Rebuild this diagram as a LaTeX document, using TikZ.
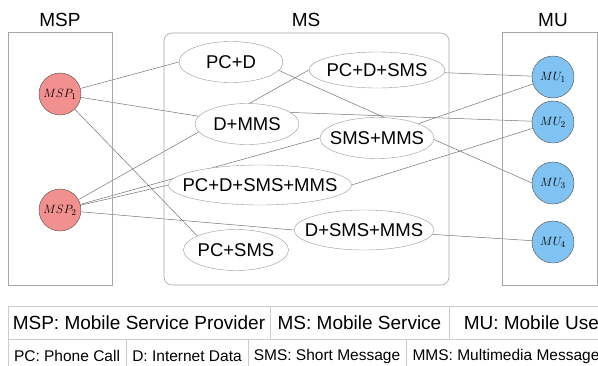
\documentclass[tikz,border=0pt]{standalone}
\usepackage{fontspec}
\setmainfont{Liberation Sans}
\usetikzlibrary{shapes.geometric,backgrounds}

\newcommand{\svclabel}[1]{\makebox[0pt]{#1}}

\begin{document}
\begin{tikzpicture}[x=1pt,y=-1pt,
    group/.style={draw=boxgray, line width=0.6pt},
    head/.style={font=\fontsize{19}{22}\selectfont},
    prov/.style={circle, draw=gray!60!black, fill=provred, minimum size=42pt, inner sep=0pt, font=\fontsize{13}{15}\selectfont},
    user/.style={circle, draw=gray!60!black, fill=userblue, minimum size=42pt, inner sep=0pt, font=\fontsize{13}{15}\selectfont},
    svc/.style={ellipse, draw=gray!80, fill=white, inner sep=0pt, font=\fontsize{18.5}{22}\selectfont},
    link/.style={draw=gray!90!black, line width=0.5pt},
    cell/.style={draw=gray!40, line width=0.6pt, inner sep=0pt},
]
    \colorlet{boxgray}{gray!70}
    \definecolor{provred}{HTML}{F28F8F}
    \definecolor{userblue}{HTML}{80C3F2}

    \useasboundingbox (0,0) rectangle (598,365);
    \clip (0,0) rectangle (598,365);

    % the three groups
    \draw[group] (8,32) rectangle (112,285);
    \draw[group, rounded corners=8pt] (164,33) rectangle (449,285);
    \draw[group] (502,32) rectangle (597,285);

    \node[head] (tmsp) at (60,20) {MSP};
    \node[head] (tms) at (306,20) {MS};
    \node[head] (tmu) at (553,20) {MU};

    % providers
    \node[prov] (msp1) at (60,94) {$MSP_1$};
    \node[prov] (msp2) at (60,210) {$MSP_2$};

    % services
    \node[svc, minimum width=104pt, minimum height=41pt] (pcd) at (231,62) {\svclabel{PC+D}};
    \node[svc, minimum width=136pt, minimum height=36pt] (pcdsms) at (377,70) {\svclabel{PC+D+SMS}};
    \node[svc, minimum width=104pt, minimum height=41pt] (dmms) at (247,124) {\svclabel{D+MMS}};
    \node[svc, minimum width=114pt, minimum height=41pt] (smsmms) at (377,138) {\svclabel{SMS+MMS}};
    \node[svc, minimum width=183pt, minimum height=40pt] (pcdsmsmms) at (260,185) {\svclabel{PC+D+SMS+MMS}};
    \node[svc, minimum width=140pt, minimum height=40pt] (dsmsmms) at (364,230) {\svclabel{D+SMS+MMS}};
    \node[svc, minimum width=105pt, minimum height=41pt] (pcsms) at (236,250) {\svclabel{PC+SMS}};

    % users
    \node[user] (mu1) at (553,77) {$MU_1$};
    \node[user] (mu2) at (553,122) {$MU_2$};
    \node[user] (mu3) at (553,183) {$MU_3$};
    \node[user] (mu4) at (553,242) {$MU_4$};

    \begin{scope}[on background layer]
        \draw[link] (msp1) -- (pcd.west);
        \draw[link] (msp1) -- (dmms);
        \draw[link] (msp1) -- (pcsms.160);
        \draw[link] (msp2) -- (pcdsms.west);
        \draw[link] (msp2) -- (smsmms.west);
        \draw[link] (msp2) -- (pcdsmsmms.west);
        \draw[link] (msp2) -- (dsmsmms.west);

        \draw[link] (pcdsms) -- (mu1);
        \draw[link] (smsmms) -- (mu1);
        \draw[link] (dmms.15) -- (mu2);
        \draw[link] (pcdsmsmms.east) -- (mu2);
        \draw[link] (pcd.-10) -- (mu3.west);
        \draw[link] (dsmsmms) -- (mu4);
    \end{scope}

    % legend
    \node[cell, minimum width=262pt, minimum height=33pt, font=\fontsize{19}{22}\selectfont] (lgmsp) at (139,322.5) {MSP: Mobile Service Provider};
    \node[cell, minimum width=179pt, minimum height=33pt, font=\fontsize{19}{22}\selectfont] (lgms) at (359.5,322.5) {MS: Mobile Service};
    \node[cell, minimum width=171pt, minimum height=33pt, font=\fontsize{19}{22}\selectfont] (lgmu) at (534.5,322.5) {MU: Mobile User};

    \node[cell, minimum width=118pt, minimum height=34pt, font=\fontsize{15.5}{18}\selectfont] (lgpc) at (67,356) {PC: Phone Call};
    \node[cell, minimum width=122pt, minimum height=34pt, font=\fontsize{15.5}{18}\selectfont] (lgd) at (187,356) {D: Internet Data};
    \node[cell, minimum width=158pt, minimum height=34pt, font=\fontsize{15.5}{18}\selectfont] (lgsms) at (327,356) {SMS: Short Message};
    \node[cell, minimum width=200pt, minimum height=34pt, font=\fontsize{15.5}{18}\selectfont] (lgmms) at (506,356) {MMS: Multimedia Message};

\end{tikzpicture}
\end{document}
